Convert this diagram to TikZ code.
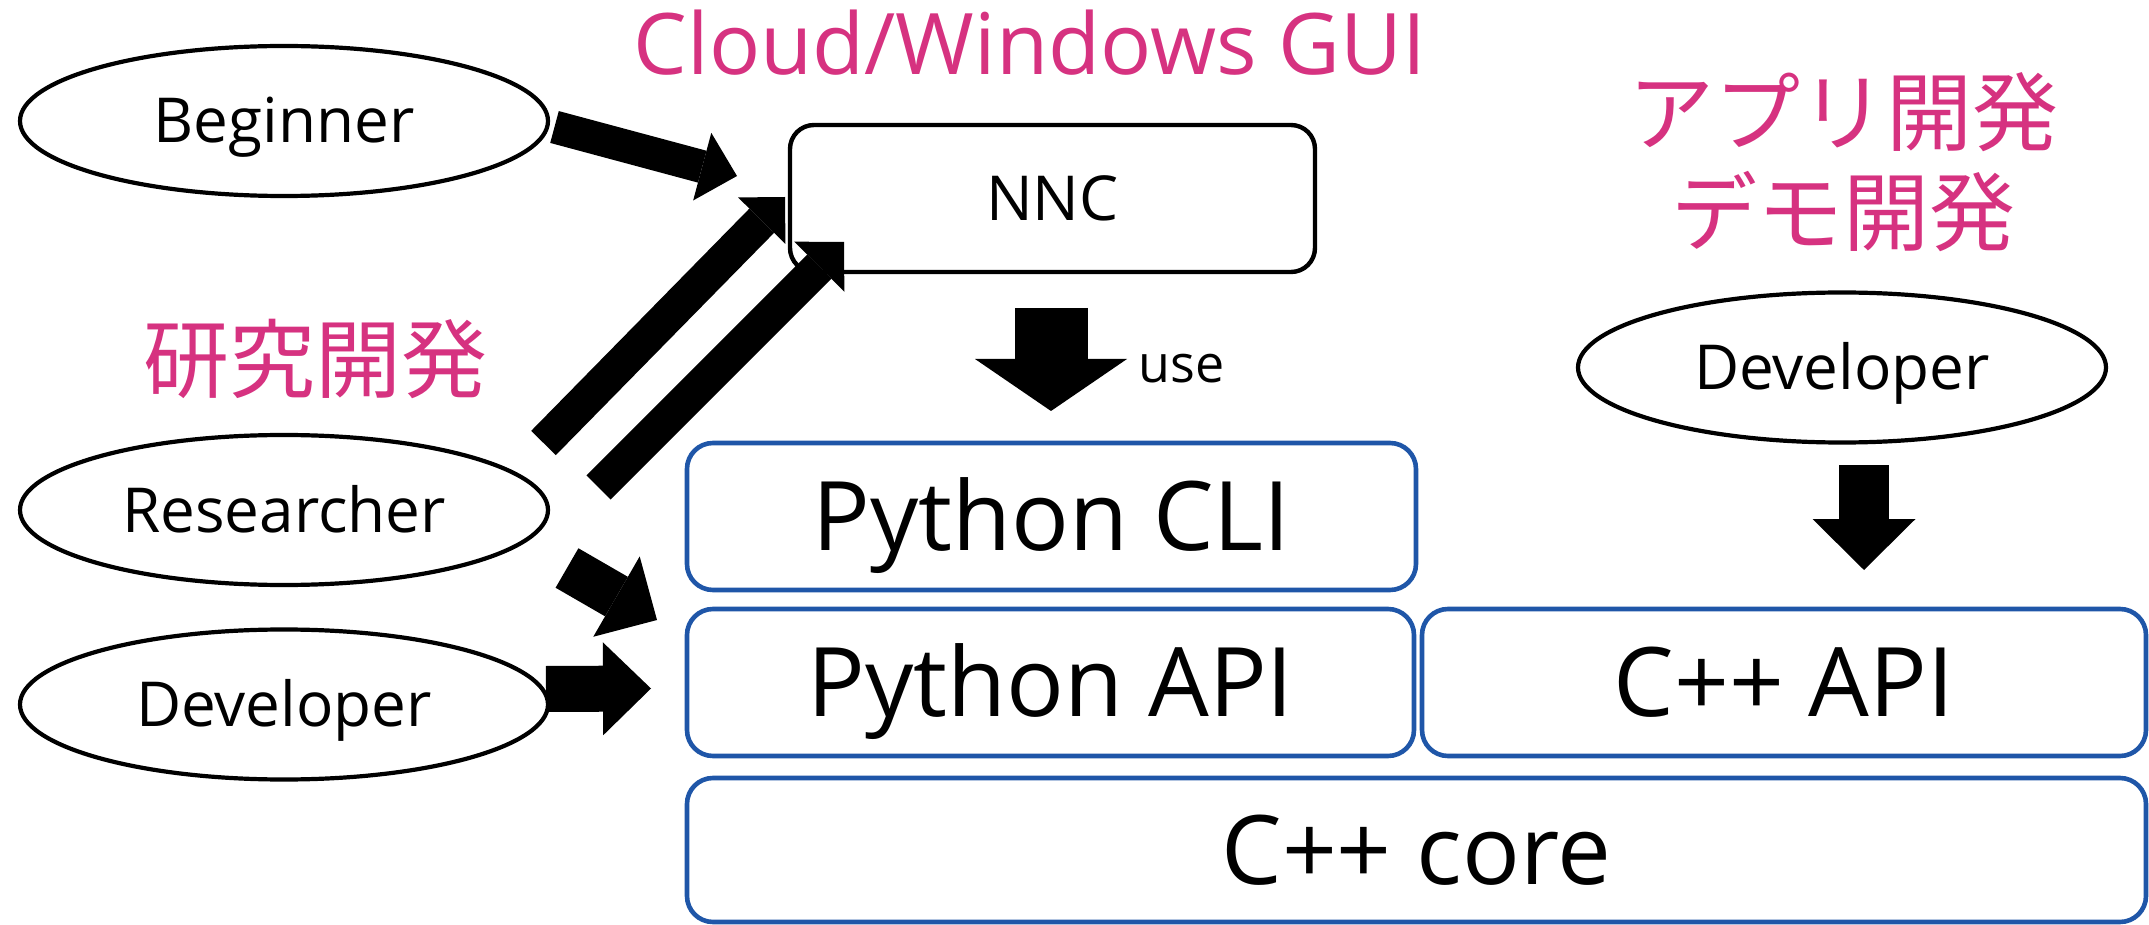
\documentclass[tikz,border=0pt]{standalone}
\usepackage{fontspec}
\setmainfont{Open Sans}
\newfontfamily\jpfont{Noto Sans CJK JP}
\usetikzlibrary{arrows.meta,shapes.geometric}
\definecolor{mag}{RGB}{214,50,128}
\definecolor{bblue}{RGB}{31,86,168}
\tikzset{
  ell/.style={ellipse, draw, line width=2.1pt, minimum width=264pt, minimum height=75pt,
    inner sep=0pt, outer sep=0pt, font=\fontsize{31}{31}\selectfont, text height=22pt, text depth=0pt},
  layer/.style={draw=bblue, line width=2.3pt, rounded corners=13pt, inner sep=0pt, outer sep=0pt,
    font=\fontsize{48}{48}\selectfont, text height=34pt, text depth=0pt},
  guibox/.style={draw=black, fill=white, line width=2.2pt, rounded corners=12pt, inner sep=0pt, outer sep=0pt,
    font=\fontsize{31}{31}\selectfont, text height=22pt, text depth=0pt},
  jplabel/.style={text=mag, font=\jpfont\fontsize{43}{50}\selectfont, align=center, inner sep=0pt},
  blockarrow/.style n args={3}{line width=#1, line cap=butt,
    -{Triangle[length=#3, width=#2, line width=0pt]}},
}
\begin{document}
\begin{tikzpicture}[x=0.5pt,y=-0.5pt]
\useasboundingbox (0,0) rectangle (2149,925);

% titles
\node[text=mag, font=\fontsize{42.5}{42.5}\selectfont, anchor=base, inner sep=0pt] (gui) at (1030,75) {Cloud/Windows GUI};
\node[jplabel] (app) at (1843,162) {アプリ開発\\デモ開発};
\node[jplabel] (res-lab) at (315,359) {研究開発};

% users
\node[ell] (beg) at (284,121) {Beginner};
\node[ell] (res) at (284,510) {Researcher};
\node[ell] (dev) at (284,704.5) {Developer};
\node[ell] (dev2) at (1842,367.5) {Developer};

% boxes
\node[guibox, minimum width=262.5pt, minimum height=73.5pt] (nnc) at (1052.5,198.5) {NNC};
\node[layer, minimum width=364.5pt, minimum height=73.5pt] (cli) at (1051.5,516.5) {Python CLI};
\node[layer, minimum width=363.5pt, minimum height=73.5pt] (papi) at (1050.5,682.5) {Python API};
\node[layer, minimum width=362pt, minimum height=73.5pt] (capi) at (1784,682.5) {C++ API};
\node[layer, minimum width=729.5pt, minimum height=72pt] (core) at (1416.5,850) {C++ core};

\node[font=\fontsize{26}{26}\selectfont, anchor=base west, inner sep=0pt] (use) at (1138,383) {use};

% arrow end points
\coordinate (t1) at ([shift={(6.5,6)}]beg.east);
\coordinate (h1) at ([shift={(-53,-22.5)}]nnc.west);
\coordinate (t2) at ([shift={(259.5,-67)}]res.center);
\coordinate (h2) at ([shift={(-5,-1.5)}]nnc.west);
\coordinate (t3) at ([shift={(314.5,-22.5)}]res.center);
\coordinate (h3) at ([shift={(54,43.5)}]nnc.west);
\coordinate (t4) at ([shift={(283,58)}]res.center);
\coordinate (h4) at ([shift={(-30,-62.5)}]papi.west);
\coordinate (t5) at ([shift={(-2,-15.5)}]dev.east);
\coordinate (h5) at ([shift={(-36,6)}]papi.west);
\coordinate (t6) at ([shift={(-1.5,36)}]nnc.south);
\coordinate (h6) at ([shift={(-0.5,-32)}]cli.north);
\coordinate (t7) at ([shift={(22,22.5)}]dev2.south);
\coordinate (h7) at ([shift={(80,-39)}]capi.north);

% arrows
\draw[blockarrow={16.5pt}{35pt}{18pt}] (t1) -- (h1);
\draw[blockarrow={17.3pt}{33.2pt}{16.6pt}] (t2) -- (h2);
\draw[blockarrow={17pt}{35.5pt}{17.5pt}] (t3) -- (h3);
\draw[blockarrow={22.8pt}{46.4pt}{23.4pt}] (t4) -- (h4);
\draw[blockarrow={23pt}{46.5pt}{24pt}] (t5) -- (h5);
\draw[blockarrow={36.5pt}{76pt}{26pt}] (t6) -- (h6);
\draw[blockarrow={25pt}{51.5pt}{25.5pt}] (t7) -- (h7);
\end{tikzpicture}
\end{document}
